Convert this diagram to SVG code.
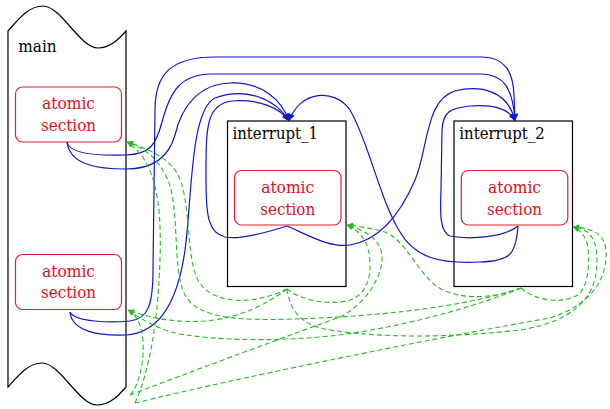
<svg xmlns="http://www.w3.org/2000/svg" width="610" height="409" viewBox="0 0 610 409">
<defs>
<style>
.frame{fill:#fff;stroke:#000;stroke-width:1.2}
.atom{fill:#fff;stroke:#e0202a;stroke-width:1.2}
.lbl{font-family:'DejaVu Serif','Noto Serif','Liberation Serif',serif;font-size:16.5px;fill:#000}
.alb{font-family:'DejaVu Serif','Noto Serif','Liberation Serif',serif;font-size:16.5px;fill:#e0101a;text-anchor:middle}
.blue{fill:none;stroke:#1414c8;stroke-width:1.2;marker-end:url(#ab)}
.green{fill:none;stroke:#22bb22;stroke-width:1.1;stroke-dasharray:5,3;marker-end:url(#ag)}
</style>
<marker id="ab" viewBox="0 0 10 10" refX="10" refY="5" markerWidth="10" markerHeight="7" markerUnits="userSpaceOnUse" orient="auto">
<path d="M0,0 L10,5 L0,10 Z" fill="#1414c8"/>
</marker>
<marker id="ag" viewBox="0 0 10 10" refX="10" refY="5" markerWidth="9" markerHeight="6" markerUnits="userSpaceOnUse" orient="auto">
<path d="M0,0 L10,5 L0,10 Z" fill="#22bb22"/>
</marker>
</defs>

<g id="main">
<path class="frame" d="M8,31 C18,20 28,6 43,6 C61,6 80,48 98,48 C110,48 119,39 126,31 L126,387 C119,395 110,405 97,405 C79,405 60,363 42,363 C28,363 18,376 8,387 Z"/>
<text class="lbl" x="18.3" y="52.3" textLength="38.4" lengthAdjust="spacingAndGlyphs">main</text>
</g>
<g id="main_atomic_1">
<rect class="atom" x="15.5" y="87" width="106" height="55" rx="7"/>
<text class="alb" x="68.5" y="109.3" textLength="53" lengthAdjust="spacingAndGlyphs">atomic</text>
<text class="alb" x="68.5" y="131" textLength="55" lengthAdjust="spacingAndGlyphs">section</text>
</g>
<g id="main_atomic_2">
<rect class="atom" x="15.5" y="254.5" width="106" height="55" rx="7"/>
<text class="alb" x="68.5" y="276.7" textLength="53" lengthAdjust="spacingAndGlyphs">atomic</text>
<text class="alb" x="68.5" y="298.3" textLength="55" lengthAdjust="spacingAndGlyphs">section</text>
</g>
<g id="interrupt_1">
<rect class="frame" x="227.5" y="121" width="118.5" height="165.5"/>
<text class="lbl" x="232.5" y="139.3" textLength="85.5" lengthAdjust="spacingAndGlyphs">interrupt_1</text>
</g>
<g id="interrupt_1_atomic">
<rect class="atom" x="234.5" y="170.5" width="106.5" height="54.5" rx="7"/>
<text class="alb" x="287.7" y="193.3" textLength="53" lengthAdjust="spacingAndGlyphs">atomic</text>
<text class="alb" x="287.7" y="214.5" textLength="55" lengthAdjust="spacingAndGlyphs">section</text>
</g>
<g id="interrupt_2">
<rect class="frame" x="454" y="121" width="118.5" height="165.5"/>
<text class="lbl" x="459.3" y="139.3" textLength="85.5" lengthAdjust="spacingAndGlyphs">interrupt_2</text>
</g>
<g id="interrupt_2_atomic">
<rect class="atom" x="461.3" y="170.5" width="106.5" height="54.5" rx="7"/>
<text class="alb" x="514.5" y="193.3" textLength="53" lengthAdjust="spacingAndGlyphs">atomic</text>
<text class="alb" x="514.5" y="214.5" textLength="55" lengthAdjust="spacingAndGlyphs">section</text>
</g>

<g id="edges">
<path class="blue" d="M67,142 C70,166 100,169 126,169 C150,169 168,160 175,135 C182,105 200,84 230,83 C262,82 282,100 289,121"/>
<path class="blue" d="M67,142 C69,153 95,156 126,155 C150,154 156,145 162,122 C170,92 180,74 212,74 L480,74 C505,74 513,90 515,121"/>
<path class="blue" d="M70,312 C75,322 110,323 130,321 C148,319 153,305 153,270 L155,110 C155,75 170,57 215,57 L482,57 C505,57 513,72 514,95 L515,121"/>
<path class="blue" d="M70,312 C72,332 100,336 126,335 C160,333 178,300 185,250 C192,200 190,110 215,98 C245,87 275,98 289,121"/>
<path class="blue" d="M287,226 C265,233 240,240 225,237 C208,233 206,215 206,180 C206,130 205,104 232,101 C260,99 280,108 289,121"/>
<path class="blue" d="M287,226 C310,236 330,248 350,245 C380,240 400,215 415,180 C428,150 425,100 455,91 C480,85 508,90 515,121"/>
<path class="blue" d="M518,226 C516,255 510,261 480,262 C440,264 415,258 400,232 C380,200 368,140 350,110 C335,88 300,90 289,121"/>
<path class="blue" d="M518,226 C505,237 470,240 450,236 C440,232 440,215 441,190 L442,130 C443,112 450,108 470,106 C495,104 510,110 515,121"/>
<path class="green" d="M135,403 C150,370 158,320 160,260 C162,200 155,160 127,142"/>
<path class="green" d="M130,395 C140,385 146,355 142,333 C140,322 135,314 128,310"/>
<path class="green" d="M130,395 C190,372 290,335 340,317 C365,305 384,275 382,255 C380,238 362,229 347,225"/>
<path class="green" d="M135,403 C250,375 450,335 550,318 C590,305 608,280 606,250 C604,232 590,228 573,227"/>
<path class="green" d="M287,289 C255,305 212,306 198,280 C185,255 192,200 177,173 C167,156 145,148 127,142"/>
<path class="green" d="M287,289 C265,305 240,318 205,321 C175,323 150,318 128,310"/>
<path class="green" d="M287,289 C300,300 330,306 350,300 C365,295 371,280 370,262 C369,243 362,232 347,225"/>
<path class="green" d="M287,289 C290,310 300,325 330,330 C380,338 450,338 520,330 C570,322 597,300 597,262 C597,238 590,229 573,227"/>
<path class="green" d="M521,288 C470,305 400,314 320,318 C250,321 200,322 185,295 C172,270 180,210 168,180 C158,158 145,148 127,142"/>
<path class="green" d="M521,288 C480,305 420,322 360,332 C300,342 220,342 175,333 C155,328 140,318 128,310"/>
<path class="green" d="M521,288 C490,300 455,300 435,285 C415,268 405,240 385,232 C370,228 358,226 347,225"/>
<path class="green" d="M521,288 C535,300 560,305 578,295 C590,285 590,255 587,243 C584,233 578,229 573,227"/>
</g>
</svg>
